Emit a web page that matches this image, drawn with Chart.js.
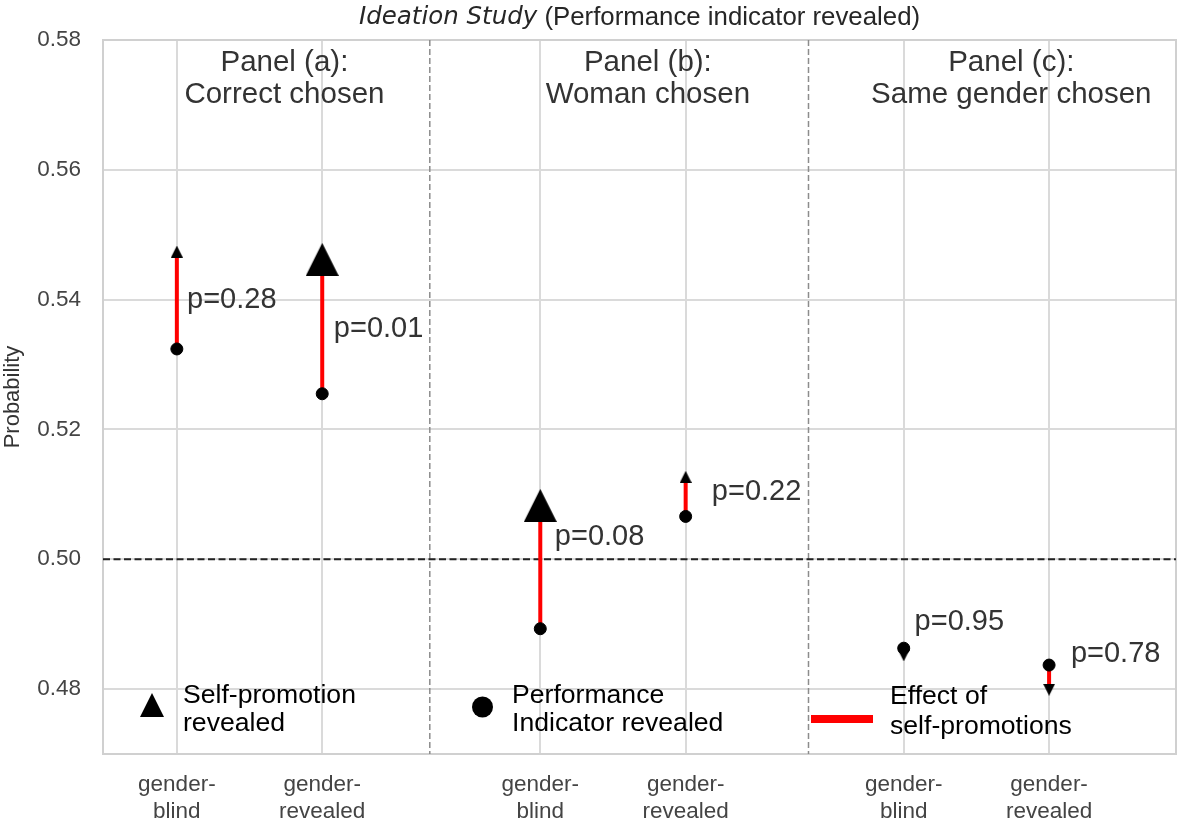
<!DOCTYPE html>
<html>
<head>
<meta charset="utf-8">
<script src="https://cdn.jsdelivr.net/npm/chart.js@4.4.0/dist/chart.umd.min.js"></script>
<style>
html, body { margin: 0; padding: 0; background: #fff; }
</style>
</head>
<body>
<canvas id="ideationChart" width="1183" height="823"></canvas>
<script>
// Data

const groups = [['gender-', 'blind'], ['gender-', 'revealed'], ['gender-', 'blind'], ['gender-', 'revealed'], ['gender-', 'blind'], ['gender-', 'revealed']]
const xPos = [0, 1, 2.5, 3.5, 5, 6]
const indicatorRevealed = [0.5324, 0.5255, 0.4893, 0.5066, 0.4863, 0.4837]
const selfPromotion = [0.5474, 0.5462, 0.5083, 0.5127, 0.4852, 0.4799]
const pValues = [0.28, 0.01, 0.08, 0.22, 0.95, 0.78]
const pLabelX = [0.07, 1.08, 2.6, 3.68, 5.075, 6.15]
const pLabelY = [0.5400, 0.5354, 0.5035, 0.5103, 0.4903, 0.4854]
const yTicks = [0.48, 0.50, 0.52, 0.54, 0.56, 0.58]
const panelTitles = [['Panel (a):', 'Correct chosen'], ['Panel (b):', 'Woman chosen'], ['Panel (c):', 'Same gender chosen']]
const panelX = [0.74, 3.24, 5.74]
const panelY = [0.5765, 0.5715]
const separators = [1.74, 4.345]
const chanceLevel = 0.5

const SANS = '"Liberation Sans", Arial, sans-serif'

// matplotlib-like triangle markers (height == width)
function triangleMarker(size, up) {
    const c = document.createElement('canvas')
    c.width = size
    c.height = size
    const g = c.getContext('2d')
    g.fillStyle = '#000'
    g.beginPath()
    if (up) {
        g.moveTo(size / 2, 0); g.lineTo(size, size); g.lineTo(0, size)
    } else {
        g.moveTo(0, 0); g.lineTo(size, 0); g.lineTo(size / 2, size)
    }
    g.closePath()
    g.fill()
    return c
}

const triStyles = selfPromotion.map((v, i) =>
    triangleMarker(pValues[i] < 0.1 ? 33 : 12, v >= indicatorRevealed[i]))

const segments = xPos.map((x, i) => ({
    data: [{ x: x, y: indicatorRevealed[i] }, { x: x, y: selfPromotion[i] }],
    showLine: true,
    borderColor: '#ff0000',
    borderWidth: 4,
    pointRadius: 0,
    order: 3
}))

const decor = {
    id: 'decor',
    beforeDatasetsDraw(chart) {
        const { ctx, chartArea: a, scales: { x, y } } = chart
        ctx.save()
        ctx.strokeStyle = '#d0d0d0'
        ctx.lineWidth = 2
        ctx.strokeRect(a.left, a.top, a.right - a.left, a.bottom - a.top)

        ctx.setLineDash([6, 3])
        ctx.strokeStyle = '#8c8c8c'
        ctx.lineWidth = 1.5
        separators.forEach(v => {
            const px = x.getPixelForValue(v)
            ctx.beginPath(); ctx.moveTo(px, a.top); ctx.lineTo(px, a.bottom); ctx.stroke()
        })

        ctx.setLineDash([7, 3.5])
        ctx.strokeStyle = '#222'
        ctx.lineWidth = 1.8
        const py = y.getPixelForValue(chanceLevel)
        ctx.beginPath(); ctx.moveTo(a.left, py); ctx.lineTo(a.right, py); ctx.stroke()
        ctx.restore()
    },
    afterDraw(chart) {
        const { ctx, chartArea: a, scales: { x, y } } = chart
        ctx.save()
        ctx.textBaseline = 'middle'

        // title, mixed fonts
        const part1 = 'Ideation Study'
        const part2 = ' (Performance indicator revealed)'
        const italic = 'oblique 24.5px "DejaVu Sans"'
        const plain = '25.8px ' + SANS
        ctx.font = italic
        const w1 = ctx.measureText(part1).width
        ctx.font = plain
        const w2 = ctx.measureText(part2).width
        const tx = (a.left + a.right) / 2 - (w1 + w2) / 2
        ctx.fillStyle = '#262626'
        ctx.textAlign = 'left'
        ctx.font = italic
        ctx.fillText(part1, tx, 18)
        ctx.font = plain
        ctx.fillText(part2, tx + w1, 18)

        // panel headings
        ctx.fillStyle = '#333'
        ctx.textAlign = 'center'
        ctx.font = '29.5px ' + SANS
        panelTitles.forEach((lines, i) => {
            lines.forEach((t, j) => ctx.fillText(t, x.getPixelForValue(panelX[i]), y.getPixelForValue(panelY[j])))
        })

        // p-value annotations
        ctx.textAlign = 'left'
        ctx.font = '29px ' + SANS
        pValues.forEach((p, i) => {
            ctx.fillText('p=' + p.toFixed(2), x.getPixelForValue(pLabelX[i]), y.getPixelForValue(pLabelY[i]))
        })

        // legend inside the plot
        const tri = triangleMarker(24, true)
        ctx.drawImage(tri, 140, 693)
        ctx.fillStyle = '#000'
        ctx.beginPath(); ctx.arc(482.5, 707, 10.5, 0, Math.PI * 2); ctx.fill()
        ctx.fillStyle = '#ff0000'
        ctx.fillRect(811, 715, 62, 8)

        ctx.fillStyle = '#000'
        ctx.font = '26.6px ' + SANS
        ctx.fillText('Self-promotion', 183, 696)
        ctx.fillText('revealed', 183, 724)
        ctx.fillText('Performance', 512, 696)
        ctx.fillText('Indicator revealed', 512, 724)
        ctx.fillText('Effect of', 890, 697)
        ctx.fillText('self-promotions', 890, 727)
        ctx.restore()
    }
}

new Chart(document.getElementById('ideationChart'), {
    type: 'scatter',
    data: {
        datasets: [
            ...segments,
            {
                data: xPos.map((x, i) => ({ x: x, y: indicatorRevealed[i] })),
                pointStyle: 'circle',
                pointRadius: 6,
                pointBackgroundColor: '#000',
                pointBorderColor: '#000',
                pointBorderWidth: 1,
                order: 2
            },
            {
                data: xPos.map((x, i) => ({ x: x, y: selfPromotion[i] })),
                pointStyle: triStyles,
                pointRadius: 6,
                order: 1
            }
        ]
    },
    options: {
        responsive: false,
        animation: false,
        layout: { padding: { top: 40, right: 2, left: 0, bottom: 0 } },
        plugins: {
            legend: { display: false },
            tooltip: { enabled: false }
        },
        scales: {
            x: {
                type: 'linear',
                min: -0.508,
                max: 6.873,
                afterBuildTicks: scale => { scale.ticks = xPos.map(v => ({ value: v })) },
                afterFit: scale => { scale.height = 69 },
                ticks: {
                    callback: (v, i) => groups[i],
                    padding: 17,
                    color: '#444',
                    font: { family: SANS, size: 22.5 }
                },
                grid: { color: '#dadada', lineWidth: 2, drawTicks: false },
                border: { display: false }
            },
            y: {
                min: 0.47,
                max: 0.58,
                afterBuildTicks: scale => { scale.ticks = yTicks.map(v => ({ value: v })) },
                afterFit: scale => { scale.width = 103 },
                ticks: {
                    callback: v => v.toFixed(2),
                    padding: 22,
                    color: '#444',
                    font: { family: SANS, size: 22.5 }
                },
                grid: { color: '#dadada', lineWidth: 2, drawTicks: false },
                border: { display: false },
                title: {
                    display: true,
                    text: 'Probability',
                    color: '#333',
                    padding: 0,
                    font: { family: SANS, size: 22 }
                }
            }
        }
    },
    plugins: [decor]
})
</script>
</body>
</html>
